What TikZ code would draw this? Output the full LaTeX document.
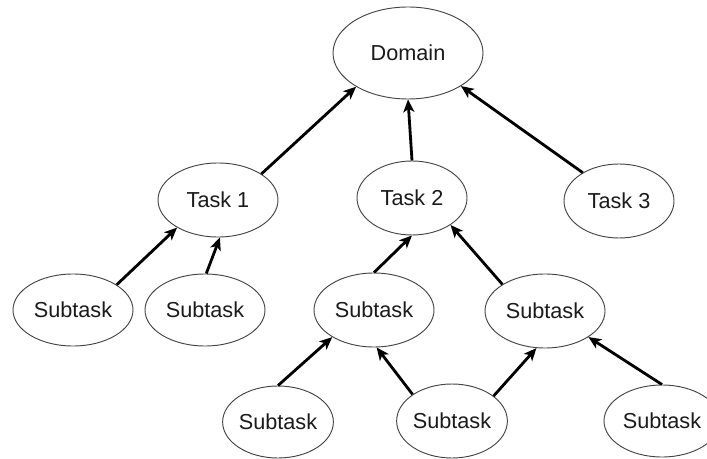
\documentclass[tikz,border=0pt]{standalone}
\usepackage{fontspec}
\setmainfont{Liberation Sans}
\usetikzlibrary{arrows.meta,shapes.geometric}
\definecolor{edgegray}{HTML}{444444}
\definecolor{textgray}{HTML}{1A1A1A}
\tikzset{
  oval/.style={ellipse, draw=edgegray, line width=0.8pt, inner sep=0pt,
    text=textgray, font=\fontsize{18.5pt}{21pt}\selectfont},
  link/.style={line width=2.4pt, -{Stealth[length=0.38cm, width=0.33cm, inset=0.1cm]}}
}
\begin{document}
\begin{tikzpicture}[x=0.03cm, y=-0.03cm]
\useasboundingbox (0,0) rectangle (707,459);
\node[oval, minimum width=4.5cm, minimum height=2.76cm] (D) at (408,53) {Domain};
\node[oval, minimum width=3.6cm, minimum height=2.22cm] (T1) at (218,200) {Task 1};
\node[oval, minimum width=3.3cm, minimum height=2.22cm] (T2) at (412,198) {Task 2};
\node[oval, minimum width=3.3cm, minimum height=2.22cm] (T3) at (619,201) {Task 3};
\node[oval, minimum width=3.6cm, minimum height=2.16cm] (L1) at (73,310) {Subtask};
\node[oval, minimum width=3.6cm, minimum height=2.16cm] (L2) at (205,310) {Subtask};
\node[oval, minimum width=3.6cm, minimum height=2.22cm] (M1) at (374,310) {Subtask};
\node[oval, minimum width=3.6cm, minimum height=2.22cm] (M2) at (545,311) {Subtask};
\node[oval, minimum width=3.3cm, minimum height=2.16cm] (B1) at (278,422) {Subtask};
\node[oval, minimum width=3.3cm, minimum height=2.22cm] (B2) at (452,421) {Subtask};
\node[oval, minimum width=3.48cm, minimum height=2.16cm] (B3) at (662,421) {Subtask};
\draw[link] (T1.31.5) -- (D.-147.8);
\draw[link] (T2.90) -- (D.-90);
\draw[link] (T3.142.9) -- (D.-32.2);
\draw[link] (L1.30.8) -- (T1.-146.9);
\draw[link] (L2.88) -- (T1.-87);
\draw[link] (M1.90) -- (T2.-90);
\draw[link] (M2.148.8) -- (T2.-35);
\draw[link] (B1.90) -- (M1.-147.3);
\draw[link] (B2.146.3) -- (M1.-86);
\draw[link] (B2.31.4) -- (M2.-103);
\draw[link] (B3.90) -- (M2.-31.5);
\end{tikzpicture}
\end{document}
